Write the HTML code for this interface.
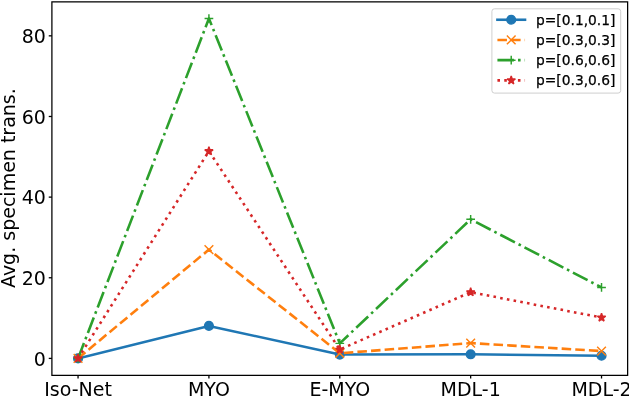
<!DOCTYPE html>
<html><head><meta charset="utf-8"><title>chart</title>
<style>html,body{margin:0;padding:0;background:#fff;overflow:hidden}svg{display:block}</style></head>
<body>
<svg width="629" height="396" viewBox="0 0 629 396" font-family="'DejaVu Sans', 'Liberation Sans', sans-serif">
<rect width="629" height="396" fill="#fff"/>
<clipPath id="ax"><rect x="51.90" y="1.87" width="575.73" height="373.50"/></clipPath>
<polyline points="78.05,358.40 208.92,325.94 339.79,354.57 470.66,354.29 601.53,355.78" fill="none" stroke="#1f77b4" stroke-width="2.58" stroke-linecap="square" stroke-linejoin="round"/>
<circle cx="78.05" cy="358.40" r="4.35" fill="#1f77b4" stroke="#1f77b4" stroke-width="1.45"/>
<circle cx="208.92" cy="325.94" r="4.35" fill="#1f77b4" stroke="#1f77b4" stroke-width="1.45"/>
<circle cx="339.79" cy="354.57" r="4.35" fill="#1f77b4" stroke="#1f77b4" stroke-width="1.45"/>
<circle cx="470.66" cy="354.29" r="4.35" fill="#1f77b4" stroke="#1f77b4" stroke-width="1.45"/>
<circle cx="601.53" cy="355.78" r="4.35" fill="#1f77b4" stroke="#1f77b4" stroke-width="1.45"/>
<polyline points="78.05,358.40 208.92,249.54 339.79,353.28 470.66,343.08 601.53,351.06" fill="none" stroke="#ff7f0e" stroke-width="2.58" stroke-linecap="butt" stroke-linejoin="round" stroke-dasharray="9.53,4.12"/>
<path d="M73.70 354.05L82.40 362.75M73.70 362.75L82.40 354.05" stroke="#ff7f0e" stroke-width="1.45" fill="none"/>
<path d="M204.57 245.19L213.27 253.89M204.57 253.89L213.27 245.19" stroke="#ff7f0e" stroke-width="1.45" fill="none"/>
<path d="M335.44 348.93L344.14 357.63M335.44 357.63L344.14 348.93" stroke="#ff7f0e" stroke-width="1.45" fill="none"/>
<path d="M466.31 338.73L475.01 347.43M466.31 347.43L475.01 338.73" stroke="#ff7f0e" stroke-width="1.45" fill="none"/>
<path d="M597.18 346.71L605.88 355.41M597.18 355.41L605.88 346.71" stroke="#ff7f0e" stroke-width="1.45" fill="none"/>
<polyline points="78.05,358.40 208.92,18.50 339.79,343.36 470.66,219.30 601.53,287.44" fill="none" stroke="#2ca02c" stroke-width="2.58" stroke-linecap="butt" stroke-linejoin="round" stroke-dasharray="16.48,4.12,2.58,4.12"/>
<path d="M73.70 358.40L82.40 358.40M78.05 354.05L78.05 362.75" stroke="#2ca02c" stroke-width="1.45" fill="none"/>
<path d="M204.57 18.50L213.27 18.50M208.92 14.15L208.92 22.85" stroke="#2ca02c" stroke-width="1.45" fill="none"/>
<path d="M335.44 343.36L344.14 343.36M339.79 339.01L339.79 347.71" stroke="#2ca02c" stroke-width="1.45" fill="none"/>
<path d="M466.31 219.30L475.01 219.30M470.66 214.95L470.66 223.65" stroke="#2ca02c" stroke-width="1.45" fill="none"/>
<path d="M597.18 287.44L605.88 287.44M601.53 283.09L601.53 291.79" stroke="#2ca02c" stroke-width="1.45" fill="none"/>
<polyline points="78.05,358.40 208.92,151.16 339.79,349.53 470.66,292.19 601.53,317.56" fill="none" stroke="#d62728" stroke-width="2.58" stroke-linecap="butt" stroke-linejoin="round" stroke-dasharray="2.58,4.25"/>
<polygon points="78.05,354.05 79.03,357.06 82.19,357.06 79.63,358.91 80.61,361.92 78.05,360.06 75.49,361.92 76.47,358.91 73.91,357.06 77.07,357.06" fill="#d62728" stroke="#d62728" stroke-width="1.45" stroke-linejoin="bevel"/>
<polygon points="208.92,146.81 209.90,149.81 213.06,149.81 210.50,151.67 211.48,154.67 208.92,152.82 206.36,154.67 207.34,151.67 204.78,149.81 207.94,149.81" fill="#d62728" stroke="#d62728" stroke-width="1.45" stroke-linejoin="bevel"/>
<polygon points="339.79,345.18 340.77,348.19 343.93,348.19 341.37,350.04 342.35,353.05 339.79,351.19 337.23,353.05 338.21,350.04 335.65,348.19 338.81,348.19" fill="#d62728" stroke="#d62728" stroke-width="1.45" stroke-linejoin="bevel"/>
<polygon points="470.66,287.84 471.64,290.85 474.80,290.85 472.24,292.71 473.22,295.71 470.66,293.86 468.10,295.71 469.08,292.71 466.52,290.85 469.68,290.85" fill="#d62728" stroke="#d62728" stroke-width="1.45" stroke-linejoin="bevel"/>
<polygon points="601.53,313.21 602.51,316.21 605.67,316.21 603.11,318.07 604.09,321.08 601.53,319.22 598.97,321.08 599.95,318.07 597.39,316.21 600.55,316.21" fill="#d62728" stroke="#d62728" stroke-width="1.45" stroke-linejoin="bevel"/>
<rect x="51.90" y="1.87" width="575.73" height="373.50" fill="none" stroke="#000" stroke-width="1.26"/>
<line x1="78.05" y1="375.38" x2="78.05" y2="378.52" stroke="#000" stroke-width="1.30"/>
<text x="78.05" y="396.10" font-size="19.00" text-anchor="middle">Iso-Net</text>
<line x1="208.92" y1="375.38" x2="208.92" y2="378.52" stroke="#000" stroke-width="1.30"/>
<text x="208.92" y="396.10" font-size="19.00" text-anchor="middle">MYO</text>
<line x1="339.79" y1="375.38" x2="339.79" y2="378.52" stroke="#000" stroke-width="1.30"/>
<text x="339.79" y="396.10" font-size="19.00" text-anchor="middle">E-MYO</text>
<line x1="470.66" y1="375.38" x2="470.66" y2="378.52" stroke="#000" stroke-width="1.30"/>
<text x="470.66" y="396.10" font-size="19.00" text-anchor="middle">MDL-1</text>
<line x1="601.53" y1="375.38" x2="601.53" y2="378.52" stroke="#000" stroke-width="1.30"/>
<text x="601.53" y="396.10" font-size="19.00" text-anchor="middle">MDL-2</text>
<line x1="48.75" y1="358.40" x2="51.90" y2="358.40" stroke="#000" stroke-width="1.30"/>
<text x="45.90" y="365.62" font-size="19.00" text-anchor="end">0</text>
<line x1="48.75" y1="277.76" x2="51.90" y2="277.76" stroke="#000" stroke-width="1.30"/>
<text x="45.90" y="284.98" font-size="19.00" text-anchor="end">20</text>
<line x1="48.75" y1="197.12" x2="51.90" y2="197.12" stroke="#000" stroke-width="1.30"/>
<text x="45.90" y="204.34" font-size="19.00" text-anchor="end">40</text>
<line x1="48.75" y1="116.48" x2="51.90" y2="116.48" stroke="#000" stroke-width="1.30"/>
<text x="45.90" y="123.70" font-size="19.00" text-anchor="end">60</text>
<line x1="48.75" y1="35.84" x2="51.90" y2="35.84" stroke="#000" stroke-width="1.30"/>
<text x="45.90" y="43.06" font-size="19.00" text-anchor="end">80</text>
<text transform="translate(14.75,188.10) rotate(-90)" font-size="19.00" text-anchor="middle">Avg. specimen trans.</text>
<rect x="491.90" y="8.80" width="128.80" height="84.30" rx="2.6" ry="2.6" fill="#fff" fill-opacity="0.8" stroke="#ccc" stroke-width="0.95"/>
<line x1="497.42" y1="19.75" x2="525.02" y2="19.75" stroke="#1f77b4" stroke-width="2.58" stroke-linecap="square"/>
<circle cx="511.22" cy="19.75" r="4.35" fill="#1f77b4" stroke="#1f77b4" stroke-width="1.45"/>
<text x="536.06" y="24.52" font-size="13.80" stroke="#000" stroke-width="0.25">p=[0.1,0.1]</text>
<line x1="497.42" y1="39.95" x2="525.02" y2="39.95" stroke="#ff7f0e" stroke-width="2.58" stroke-linecap="butt" stroke-dasharray="9.53,4.12"/>
<path d="M506.87 35.60L515.57 44.30M506.87 44.30L515.57 35.60" stroke="#ff7f0e" stroke-width="1.45" fill="none"/>
<text x="536.06" y="44.62" font-size="13.80" stroke="#000" stroke-width="0.25">p=[0.3,0.3]</text>
<line x1="497.42" y1="60.15" x2="525.02" y2="60.15" stroke="#2ca02c" stroke-width="2.58" stroke-linecap="butt" stroke-dasharray="16.48,4.12,2.58,4.12"/>
<path d="M506.87 60.15L515.57 60.15M511.22 55.80L511.22 64.50" stroke="#2ca02c" stroke-width="1.45" fill="none"/>
<text x="536.06" y="64.92" font-size="13.80" stroke="#000" stroke-width="0.25">p=[0.6,0.6]</text>
<line x1="497.42" y1="80.35" x2="525.02" y2="80.35" stroke="#d62728" stroke-width="2.58" stroke-linecap="butt" stroke-dasharray="2.58,4.25"/>
<polygon points="511.22,76.00 512.20,79.01 515.36,79.01 512.80,80.86 513.78,83.87 511.22,82.01 508.66,83.87 509.64,80.86 507.08,79.01 510.24,79.01" fill="#d62728" stroke="#d62728" stroke-width="1.45" stroke-linejoin="bevel"/>
<text x="536.06" y="85.07" font-size="13.80" stroke="#000" stroke-width="0.25">p=[0.3,0.6]</text>
</svg>
</body></html>
